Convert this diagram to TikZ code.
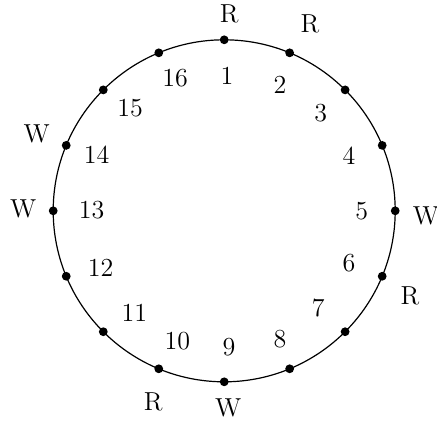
\documentclass[tikz,border=0pt]{standalone}
\usepackage{tikz}
\begin{document}
\begin{tikzpicture}[x=0.5pt,y=-0.5pt,
  dotnode/.style={circle,fill=black,inner sep=0pt,minimum size=4.4pt},
  numlabel/.style={inner sep=0pt,font=\fontsize{13}{15}\selectfont},
  letlabel/.style={inner sep=0pt,font=\fontsize{13}{15}\selectfont}]
\useasboundingbox (0,0) rectangle (437,424);
\coordinate (O) at (224.2,210.8);
\draw[line width=0.6pt] (O) circle[radius=85.5pt];
\foreach \i in {1,...,16}{
  \pgfmathsetmacro{\ang}{90-22.5*(\i-1)}
  \node[dotnode] (p\i) at ({224.2+171*cos(\ang)},{210.8-171*sin(\ang)}) {};
}
% inner numbers
\node[numlabel] (l1) at (227,76) {1};
\node[numlabel] (l2) at (280,85) {2};
\node[numlabel] (l3) at (320.7,112.7) {3};
\node[numlabel] (l4) at (349,156) {4};
\node[numlabel] (l5) at (361.7,211) {5};
\node[numlabel] (l6) at (349,263) {6};
\node[numlabel] (l7) at (318.3,308.3) {7};
\node[numlabel] (l8) at (280,339.3) {8};
\node[numlabel] (l9) at (229,347) {9};
\node[numlabel] (l10) at (177.3,340.7) {10};
\node[numlabel] (l11) at (134.3,312.7) {11};
\node[numlabel] (l12) at (100.7,268) {12};
\node[numlabel] (l13) at (91.7,210) {13};
\node[numlabel] (l14) at (96.7,155) {14};
\node[numlabel] (l15) at (130,107.7) {15};
\node[numlabel] (l16) at (175,78) {16};
% outer letters
\node[letlabel] (o1) at (229.3,14) {R};
\node[letlabel] (o2) at (310,24) {R};
\node[letlabel] (o5) at (426,216) {W};
\node[letlabel] (o6) at (410,296) {R};
\node[letlabel] (o9) at (228.3,408.3) {W};
\node[letlabel] (o10) at (153.3,401.7) {R};
\node[letlabel] (o13) at (23.3,209) {W};
\node[letlabel] (o14) at (36.7,134) {W};
\end{tikzpicture}
\end{document}
